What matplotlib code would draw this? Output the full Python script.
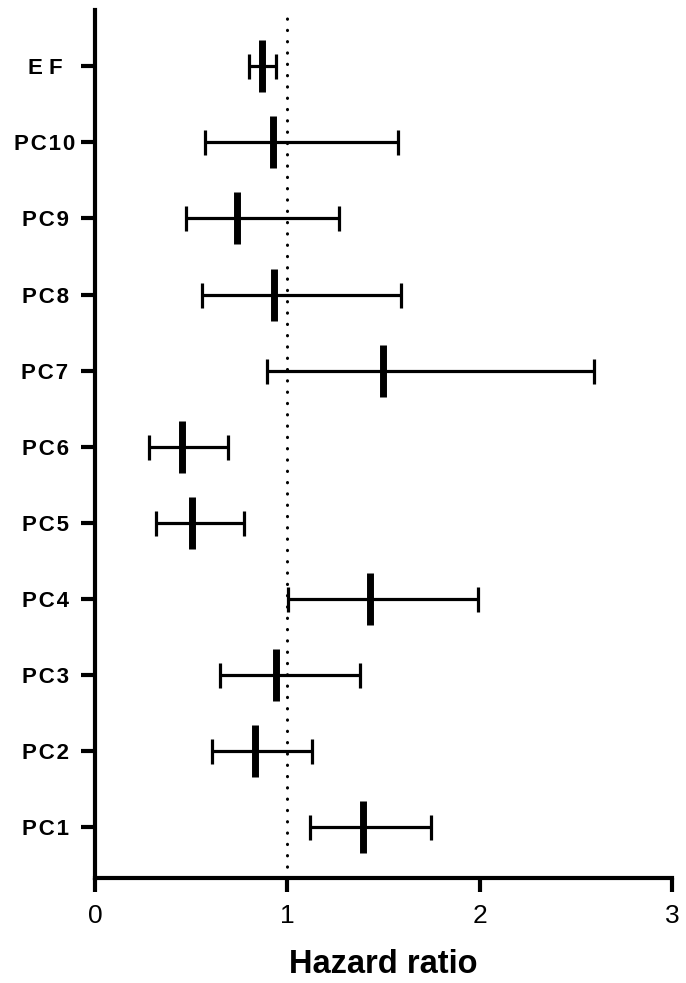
import matplotlib.pyplot as plt

labels = ['PC1', 'PC2', 'PC3', 'PC4', 'PC5', 'PC6', 'PC7', 'PC8', 'PC9', 'PC10', 'EF']
hr = [1.395, 0.834, 0.939, 1.427, 0.502, 0.450, 1.495, 0.930, 0.739, 0.927, 0.870]
ci_low = [1.118, 0.607, 0.652, 1.005, 0.316, 0.282, 0.893, 0.557, 0.473, 0.573, 0.800]
ci_high = [1.748, 1.130, 1.377, 1.989, 0.773, 0.691, 2.595, 1.589, 1.270, 1.577, 0.943]

plt.rcParams['font.family'] = ['Liberation Sans', 'DejaVu Sans']

fig = plt.figure(figsize=(6.86, 9.83), dpi=100)
ax = fig.add_axes([0.1385, 0.1068, 0.8415, 0.883])

ypos = list(range(len(labels)))
err = [[h - lo for h, lo in zip(hr, ci_low)], [hi - h for h, hi in zip(hr, ci_high)]]
ax.errorbar(hr, ypos, xerr=err, fmt='none', ecolor='black', elinewidth=2.3,
            capsize=9, capthick=2.3)
ax.plot(hr, ypos, linestyle='none', marker='|', markersize=37,
        markeredgewidth=5, color='black')

ax.axvline(1, color='black', linewidth=2.2, linestyle=(0, (0.1, 3.6)),
           dash_capstyle='round')

ax.set_xlim(0, 3)
ax.set_ylim(-0.67, 10.74)
ax.set_xticks([0, 1, 2, 3])
ax.set_xticklabels(['0', '1', '2', '3'], fontsize=19)
ax.set_yticks(ypos)
# spaced-out letters, like the original labels
ylabels = ['E F' if l == 'EF' else '\u200a'.join(l) for l in labels]
ax.set_yticklabels(ylabels, fontsize=16, fontweight='bold')
for t in ax.get_yticklabels():
    t.set_horizontalalignment('center')

for s in ['top', 'right']:
    ax.spines[s].set_visible(False)
for s in ['left', 'bottom']:
    ax.spines[s].set_linewidth(3)

ax.tick_params(axis='both', width=3, length=10, color='black')
ax.tick_params(axis='y', pad=26)
ax.tick_params(axis='x', pad=9)

ax.set_xlabel('Hazard ratio', fontsize=23.5, fontweight='bold', labelpad=15)

fig.savefig('out.png', dpi=100)
